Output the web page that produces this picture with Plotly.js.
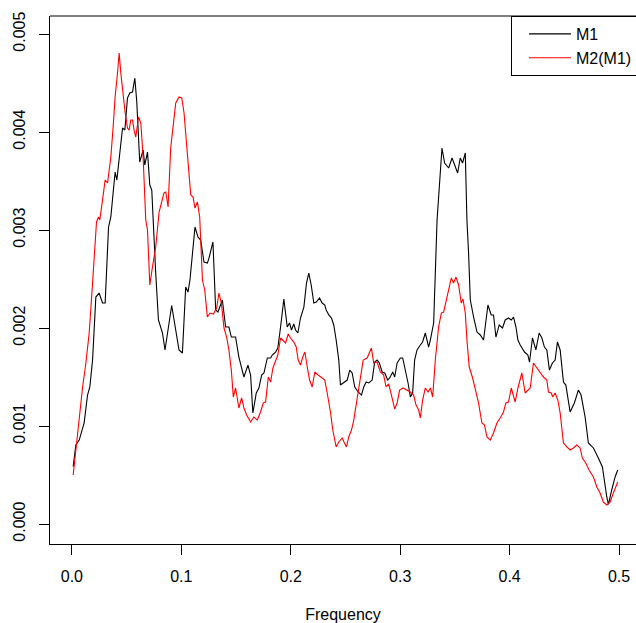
<!DOCTYPE html>
<html>
<head>
<meta charset="utf-8">
<script src="https://cdn.plot.ly/plotly-3.0.1.min.js"></script>
<style>html,body{margin:0;padding:0;background:#fff;}#chart{width:636px;height:623px;}</style>
</head>
<body>
<div id="chart"></div>
<script>
// Series M1 (black)
var freqM1 = [0.0012,0.0036,0.0067,0.0112,0.0143,0.0164,0.0189,0.0219,0.0249,0.0280,0.0304,0.0335,0.0356,0.0395,0.0411,0.0441,0.0463,0.0484,0.0508,0.0529,0.0554,0.0575,0.0593,0.0620,0.0651,0.0666,0.0691,0.0712,0.0730,0.0766,0.0791,0.0828,0.0851,
0.0912,0.0958,0.0979,0.1010,0.1040,0.1061,0.1079,0.1125,0.1152,0.1177,0.1207,0.1238,0.1253,0.1289,0.1314,0.1335,0.1375,0.1405,0.1435,0.1457,0.1496,0.1526,0.1572,0.1609,0.1633,
0.1654,0.1685,0.1709,0.1734,0.1755,0.1786,0.1816,0.1831,0.1861,0.1882,0.1907,0.1937,0.1968,0.1989,0.2007,0.2028,0.2044,0.2065,0.2089,0.2120,0.2144,0.2165,0.2187,0.2211,0.2233,0.2263,0.2287,0.2311,0.2324,0.2348,0.2372,0.2393,0.2415,0.2439,0.2454,
0.2484,0.2516,0.2539,0.2561,0.2585,0.2616,0.2646,0.2667,0.2689,0.2713,0.2744,0.2767,0.2789,0.2810,0.2835,0.2859,0.2886,0.2904,0.2932,0.2950,0.2972,0.3002,0.3023,0.3047,0.3072,0.3093,0.3114,0.3132,0.3154,0.3184,0.3205,0.3230,0.3260,0.3276,
0.3306,0.3337,0.3360,0.3382,0.3406,0.3443,0.3474,0.3504,0.3525,0.3549,0.3570,0.3595,0.3610,0.3625,0.3641,
0.3671,0.3702,0.3732,0.3762,0.3802,0.3832,0.3853,0.3875,0.3905,0.3935,0.3960,0.3990,0.4015,0.4036,0.4058,0.4076,0.4097,
0.4136,0.4167,0.4182,0.4209,0.4240,0.4270,0.4295,0.4318,0.4340,0.4364,0.4391,0.4416,0.4437,0.4462,0.4492,0.4514,0.4553,0.4592,0.4628,0.4653,0.4690,0.4720,0.4766,0.4811,0.4848,0.4888,0.4903,0.4933,0.4964,0.4988];
var valM1 = [0.000585,0.000806,0.000857,0.001031,0.001316,0.001398,0.001673,0.002316,0.002357,0.002255,0.002255,0.003031,0.003133,0.003592,0.003510,0.003816,0.004041,0.004020,0.004347,0.004398,0.004408,0.004551,0.004306,0.003694,0.003816,0.003663,0.003796,0.003459,0.003408,0.002561,0.002082,0.001949,0.001776,
0.002230,0.001908,0.001776,0.001745,0.002418,0.002367,0.002490,0.003031,0.002929,0.002898,0.002673,0.002663,0.002714,0.002878,0.002184,0.002163,0.002286,0.002010,0.002010,0.001908,0.001908,0.001704,0.001500,0.001622,0.001520,
0.001133,0.001337,0.001388,0.001520,0.001541,0.001694,0.001694,0.001724,0.001755,0.001796,0.002010,0.002296,0.002010,0.002051,0.001980,0.002041,0.001980,0.001949,0.002102,0.002214,0.002459,0.002561,0.002439,0.002255,0.002265,0.002306,0.002255,0.002235,0.002184,0.002133,0.002102,0.002031,0.001878,0.001673,0.001418,
0.001439,0.001469,0.001571,0.001541,0.001398,0.001347,0.001316,0.001398,0.001449,0.001439,0.001469,0.001653,0.001673,0.001643,0.001551,0.001541,0.001469,0.001490,0.001551,0.001500,0.001643,0.001694,0.001694,0.001571,0.001439,0.001296,0.001337,0.001673,0.001776,0.001827,0.001857,0.001949,0.001806,0.001878,
0.002051,0.003102,0.003541,0.003837,0.003684,0.003633,0.003735,0.003643,0.003582,0.003735,0.003684,0.003786,0.003102,0.002765,0.002286,
0.002112,0.001959,0.001929,0.001878,0.002235,0.002133,0.002133,0.001908,0.002031,0.002000,0.002082,0.002102,0.002082,0.002112,0.002010,0.001878,0.001827,
0.001755,0.001724,0.001653,0.001898,0.001776,0.001949,0.001898,0.001806,0.001776,0.001571,0.001643,0.001673,0.001857,0.001776,0.001449,0.001418,0.001143,0.001235,0.001367,0.001316,0.001092,0.000827,0.000776,0.000673,0.000582,0.000276,0.000200,0.000347,0.000480,0.000551];

// Series M2(M1) (red)
var freqM2 = [0.0012,0.0036,0.0067,0.0098,0.0128,0.0158,0.0189,0.0225,0.0244,0.0255,0.0280,0.0304,0.0326,0.0356,0.0377,0.0395,0.0417,0.0432,0.0447,0.0468,0.0486,0.0508,0.0523,0.0538,0.0554,0.0568,0.0584,0.0609,0.0630,0.0651,0.0675,0.0691,0.0712,0.0736,0.0766,0.0797,0.0828,0.0842,0.0858,0.0879,0.0903,0.0928,0.0949,0.0979,0.1004,0.1025,0.1047,0.1070,0.1086,0.1107,0.1125,0.1147,0.1168,0.1193,0.1214,0.1238,0.1262,0.1293,0.1323,0.1344,0.1366,0.1390,0.1414,0.1435,0.1457,0.1475,0.1496,0.1526,0.1551,0.1572,0.1597,
0.1633,0.1663,0.1694,0.1724,0.1749,0.1770,0.1795,0.1816,0.1837,0.1861,0.1882,0.1907,0.1928,0.1953,0.1977,0.1998,0.2028,0.2050,0.2068,0.2089,0.2110,0.2129,0.2151,0.2172,0.2196,0.2220,0.2251,0.2281,0.2311,0.2333,0.2363,0.2384,0.2415,0.2439,0.2470,0.2491,0.2509,0.2530,0.2555,0.2576,0.2607,0.2637,0.2662,0.2698,0.2737,0.2758,0.2789,0.2819,0.2849,0.2871,0.2895,0.2926,0.2950,0.2972,0.2995,0.3026,0.3063,0.3093,0.3123,0.3145,0.3169,0.3184,0.3205,0.3230,0.3255,0.3276,0.3297,0.3321,0.3351,0.3376,0.3397,0.3428,0.3467,0.3488,0.3510,0.3534,0.3558,0.3574,0.3595,0.3610,0.3631,0.3662,0.3686,0.3716,0.3747,0.3771,0.3793,0.3823,0.3853,0.3884,0.3914,0.3944,0.3966,0.3990,0.4015,0.4036,0.4051,0.4076,0.4112,0.4142,0.4167,0.4188,0.4218,0.4249,0.4279,0.4309,0.4340,0.4355,0.4380,0.4395,0.4416,0.4441,0.4462,0.4492,0.4523,0.4553,0.4583,0.4614,0.4644,0.4665,0.4696,0.4726,0.4766,0.4797,0.4827,0.4857,0.4888,0.4918,0.4948,0.4988];
var valM2 = [0.000500,0.000755,0.001092,0.001398,0.001643,0.001949,0.002459,0.003082,0.003133,0.003102,0.003306,0.003510,0.003480,0.003745,0.004051,0.004357,0.004602,0.004806,0.004602,0.004347,0.004204,0.004041,0.004020,0.004122,0.004122,0.004020,0.003949,0.004153,0.004092,0.003745,0.003102,0.003000,0.002439,0.002622,0.002827,0.003184,0.003337,0.003378,0.003388,0.003235,0.003837,0.004122,0.004296,0.004357,0.004347,0.004194,0.003888,0.003582,0.003357,0.003337,0.003224,0.003286,0.003133,0.002490,0.002388,0.002112,0.002153,0.002143,0.002204,0.002357,0.002255,0.002000,0.001908,0.001776,0.001571,0.001296,0.001388,0.001184,0.001286,0.001184,0.001112,
0.001041,0.001092,0.001061,0.001143,0.001235,0.001245,0.001500,0.001449,0.001592,0.001673,0.001724,0.001898,0.001878,0.001847,0.001939,0.001898,0.001857,0.001806,0.001673,0.001622,0.001704,0.001755,0.001602,0.001469,0.001398,0.001551,0.001520,0.001490,0.001469,0.001337,0.001143,0.000959,0.000786,0.000837,0.000878,0.000827,0.000786,0.000888,0.000959,0.001061,0.001265,0.001469,0.001673,0.001694,0.001796,0.001643,0.001653,0.001551,0.001520,0.001398,0.001429,0.001286,0.001173,0.001235,0.001367,0.001388,0.001367,0.001347,0.001316,0.001214,0.001163,0.001082,0.001265,0.001388,0.001347,0.001388,0.001296,0.001673,0.002010,0.002153,0.002163,0.002316,0.002510,0.002459,0.002520,0.002439,0.002255,0.002296,0.002153,0.001878,0.001602,0.001490,0.001388,0.001235,0.001031,0.001010,0.000888,0.000857,0.000929,0.001031,0.001082,0.001143,0.001235,0.001245,0.001388,0.001316,0.001245,0.001388,0.001541,0.001337,0.001367,0.001388,0.001643,0.001592,0.001551,0.001500,0.001469,0.001347,0.001337,0.001296,0.001337,0.001265,0.001133,0.000827,0.000786,0.000755,0.000776,0.000806,0.000776,0.000673,0.000622,0.000551,0.000480,0.000378,0.000316,0.000224,0.000194,0.000224,0.000316,0.000429];

var seriesNames = ["M1", "M2(M1)"];
var xTicks = [0.0, 0.1, 0.2, 0.3, 0.4, 0.5];
var xTickText = ["0.0", "0.1", "0.2", "0.3", "0.4", "0.5"];
var yTicks = [0.000, 0.001, 0.002, 0.003, 0.004, 0.005];
var yTickText = ["0.000", "0.001", "0.002", "0.003", "0.004", "0.005"];
var xLabel = "Frequency";

var FONT = "Liberation Sans, Arial, Helvetica, sans-serif";

var traces = [
  {x: freqM1, y: valM1, type: "scatter", mode: "lines", name: seriesNames[0],
   line: {color: "#000000", width: 1.1}},
  {x: freqM2, y: valM2, type: "scatter", mode: "lines", name: seriesNames[1],
   line: {color: "#ff0000", width: 1.1}}
];

var layout = {
  width: 636, height: 623,
  margin: {l: 50, r: 0, t: 16, b: 79, pad: 0, autoexpand: false},
  paper_bgcolor: "#ffffff", plot_bgcolor: "#ffffff",
  font: {family: FONT, size: 16, color: "#000000"},
  showlegend: true,
  legend: {x: 0.7867, xanchor: "left", y: 1, yanchor: "top", bgcolor: "#ffffff",
    bordercolor: "#000000", borderwidth: 1, font: {family: FONT, size: 16, color: "#000000"},
    itemwidth: 42, indentation: 12, tracegroupgap: 0},
  xaxis: {range: [-0.02, 0.5155], tickvals: xTicks, ticktext: xTickText,
    showgrid: false, zeroline: false, showline: true, linecolor: "#000", linewidth: 1,
    ticks: "outside", ticklen: 10, tickcolor: "#000", tickwidth: 1, ticklabelstandoff: 8,
    title: {text: xLabel, font: {family: FONT, size: 16, color: "#000"}, standoff: 25},
    automargin: false, fixedrange: true},
  yaxis: {range: [-0.000204, 0.005184], tickvals: yTicks, ticktext: yTickText, tickangle: -90,
    showgrid: false, zeroline: false, showline: true, linecolor: "#000", linewidth: 1,
    ticks: "outside", ticklen: 10, tickcolor: "#000", tickwidth: 1, ticklabelstandoff: 8,
    automargin: false, fixedrange: true},
  shapes: [{type: "line", xref: "paper", yref: "paper", x0: 0, x1: 1, y0: 1, y1: 1,
    line: {color: "#000", width: 1}}]
};

Plotly.newPlot("chart", traces, layout, {displayModeBar: false, staticPlot: true});
</script>
</body>
</html>
